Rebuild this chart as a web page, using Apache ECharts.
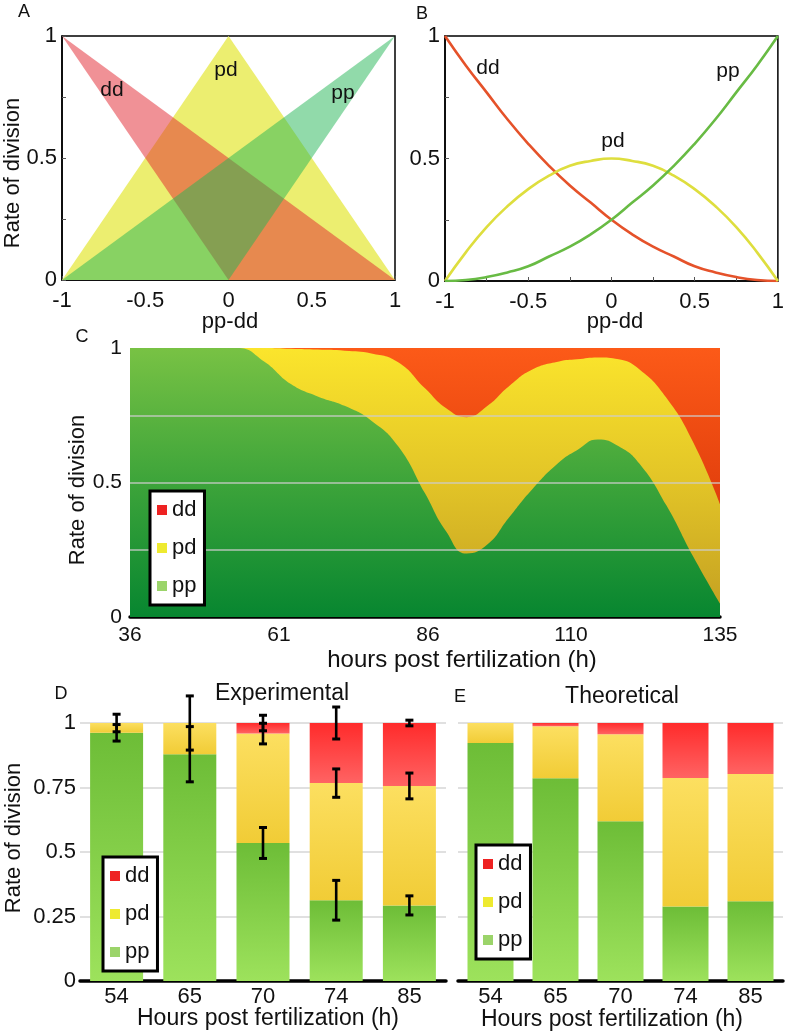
<!DOCTYPE html>
<html>
<head>
<meta charset="utf-8">
<script src="https://cdn.jsdelivr.net/npm/echarts@6/dist/echarts.min.js"></script>
<style>html,body{margin:0;padding:0;background:#fff}#c{width:787px;height:1036px}</style>
</head>
<body>
<div id="c"></div>
<script>
// ---------- Panel A: triangles (vertices in pp-dd / rate space)
const triPD = [[-1,0],[0,1],[1,0]];
const triDD = [[-1,1],[0,0],[1,0]];
const triPP = [[-1,0],[0,0],[1,1]];

// ---------- Panel B: curves
const bX  = [-1,-0.875,-0.75,-0.625,-0.5,-0.375,-0.25,-0.125,0,0.125,0.25,0.375,0.5,0.625,0.75,0.875,1];
const bDD = [1,0.88,0.77,0.66,0.56,0.47,0.39,0.32,0.25,0.19,0.14,0.10,0.06,0.035,0.016,0.004,0];
const bPD = [0,0.117,0.22,0.305,0.375,0.43,0.47,0.49,0.5,0.49,0.47,0.43,0.375,0.305,0.22,0.117,0];
const bPP = [0,0.004,0.016,0.035,0.06,0.10,0.14,0.19,0.25,0.32,0.39,0.47,0.56,0.66,0.77,0.88,1];

// ---------- Panel C: stacked areas
const cHours = [36,45,54,58.5,63,67.5,72,76.5,81,85.5,89,92.5,96,99.5,103.5,108,111,114.5,118,121.5,126,130.5,135];
const cPP = [1,1,1,0.95,0.866,0.82,0.785,0.73,0.635,0.46,0.32,0.236,0.27,0.367,0.475,0.575,0.62,0.66,0.635,0.57,0.415,0.225,0.05];
const cPD = [0,0,0,0.05,0.131,0.174,0.205,0.25,0.312,0.39,0.457,0.507,0.515,0.489,0.445,0.375,0.338,0.305,0.323,0.35,0.40,0.425,0.37];
const cDD = [0,0,0,0,0.003,0.006,0.01,0.02,0.053,0.15,0.223,0.257,0.215,0.144,0.08,0.05,0.042,0.035,0.042,0.08,0.185,0.35,0.58];
const cTicks = [36,61,86,110,135];

// ---------- Panel D: experimental
const hoursCats = ['54','65','70','74','85'];
const dPP = [0.962,0.879,0.535,0.313,0.293];
const dPD = [0.038,0.121,0.424,0.454,0.463];
const dDD = [0,0,0.041,0.233,0.244];
const dErrPP = [0.032,0.107,0.06,0.077,0.037];
const dErrPD = [0.034,0.105,0.04,0.055,0.05];
const dErrDD = [null,null,0.03,0.062,0.011];

// ---------- Panel E: theoretical
const ePP = [0.922,0.786,0.619,0.289,0.309];
const ePD = [0.078,0.201,0.337,0.498,0.493];
const eDD = [0,0.013,0.044,0.213,0.198];

const FONT = 'Liberation Sans, Arial, sans-serif';
const TXT = '#111';
const grad = (stops) => new echarts.graphic.LinearGradient(0,0,0,1,stops.map((c,i)=>({offset:i/(stops.length-1),color:c})));

const chart = echarts.init(document.getElementById('c'), null, {renderer:'canvas'});

function polySeries(name, pts, fill, z){
  return {
    type:'custom', name, xAxisIndex:0, yAxisIndex:0, z, silent:true, clip:false,
    data: pts,
    renderItem: (params, api) => params.dataIndex === 0 ? {
      type:'polygon',
      shape:{points: pts.map(p => api.coord(p))},
      style:{fill}
    } : null
  };
}

function boxAxisX(idx){
  return {
    type:'value', gridIndex:idx, min:-1, max:1, interval:0.25,
    axisLine:{show:true, onZero:false, lineStyle:{color:'#000', width:1.5}},
    axisTick:{show:true, inside:true, length:4, lineStyle:{color:'#555'}},
    axisLabel:{fontSize:22, fontFamily:FONT, color:TXT, margin:10,
      formatter: v => (Math.abs(v*2 - Math.round(v*2)) < 1e-9) ? String(v) : ''},
    splitLine:{show:false}
  };
}
function boxAxisY(idx){
  return {
    type:'value', gridIndex:idx, min:0, max:1, interval:0.25,
    axisLine:{show:true, onZero:false, lineStyle:{color:'#000', width:1.5}},
    axisTick:{show:true, inside:true, length:4, lineStyle:{color:'#555'}},
    axisLabel:{fontSize:22, fontFamily:FONT, color:TXT, margin:5,
      formatter: v => (v===0||v===0.5||v===1) ? String(v) : ''},
    splitLine:{show:false}
  };
}

const legendCommon = {
  orient:'vertical', backgroundColor:'#fff', borderColor:'#000', borderWidth:3,
  padding:[8,8,8,7], itemGap:16, itemWidth:10, itemHeight:10, icon:'rect',
  selectedMode:false, z:20,
  textStyle:{fontSize:22, fontFamily:FONT, color:TXT},
  data:[
    {name:'dd', itemStyle:{color:'#ee2222'}},
    {name:'pd', itemStyle:{color:'#eeea30'}},
    {name:'pp', itemStyle:{color:'#9bd46a'}}
  ]
};

const barStyles = {
  pp: grad(['#6dbd37','#9de25c']),
  pd: grad(['#fcdf60','#f1cc36']),
  dd: grad(['#ff2b2b','#ff6363'])
};

function barSeries(name, vals, stack, ax, width){
  return {
    type:'bar', name, stack, xAxisIndex:ax, yAxisIndex:ax, barWidth:width,
    data: vals, itemStyle:{color: barStyles[name]}, silent:true
  };
}

const errData = [];
hoursCats.forEach((c,i) => {
  errData.push([i, dPP[i], dErrPP[i]]);
  errData.push([i, dPP[i]+dPD[i], dErrPD[i]]);
  if (dErrDD[i] != null) errData.push([i, dPP[i]+dPD[i]+dDD[i], dErrDD[i]]);
});

// cumulative tops for panel C (drawn as overlapping areas from the bottom)
const cTopPP = cPP.slice();
const cTopPD = cPP.map((v,i) => v + cPD[i]);
const cTopDD = cPP.map((v,i) => v + cPD[i] + cDD[i]);

function areaC(name, tops, fill, z, legendColor, extra){
  return Object.assign({
    type:'line', name, xAxisIndex:2, yAxisIndex:2, smooth:0.5, z,
    showSymbol:false, silent:true, lineStyle:{width:0},
    areaStyle:{opacity:1, color:fill, origin:'start'},
    itemStyle:{color:legendColor},
    data:cHours.map((h,i)=>[h,tops[i]])
  }, extra || {});
}

function lbl(text, x, y, size, rot){
  return {type:'text', x, y, z:100, rotation: rot ? Math.PI/2 : 0, silent:true,
    style:{text, align:'center', verticalAlign:'middle', font: size+'px '+FONT, fill:TXT}};
}

const option = {
  backgroundColor:'#fff',
  animation:false,
  grid:[
    {left:62, top:36, width:333, height:244, show:true, borderColor:'#000', borderWidth:1.5},
    {left:445, top:36, width:334, height:245, show:true, borderColor:'#000', borderWidth:1.5},
    {left:130, top:348, width:590, height:269},
    {left:80, top:723, width:366, height:258},
    {left:458, top:723, width:325, height:258}
  ],
  xAxis:[
    boxAxisX(0), boxAxisX(1),
    {type:'value', gridIndex:2, min:36, max:135,
      axisLine:{show:true, onZero:false, lineStyle:{color:'#000', width:3.5}},
      axisTick:{show:false},
      axisLabel:{customValues:cTicks, fontSize:21, fontFamily:FONT, color:TXT, margin:8},
      splitLine:{show:false}},
    {type:'category', gridIndex:3, data:hoursCats,
      axisLine:{show:true, lineStyle:{color:'#000', width:3.5}},
      axisTick:{show:false},
      axisLabel:{fontSize:22, fontFamily:FONT, color:TXT, margin:5}},
    {type:'category', gridIndex:4, data:hoursCats,
      axisLine:{show:true, lineStyle:{color:'#000', width:3.5}},
      axisTick:{show:false},
      axisLabel:{fontSize:22, fontFamily:FONT, color:TXT, margin:5}}
  ],
  yAxis:[
    boxAxisY(0), boxAxisY(1),
    {type:'value', gridIndex:2, min:0, max:1, interval:0.25,
      axisLine:{show:false, onZero:false}, axisTick:{show:false},
      axisLabel:{fontSize:21, fontFamily:FONT, color:TXT, margin:8,
        formatter: v => (v===0||v===0.5||v===1) ? String(v) : ''},
      splitLine:{show:false}},
    {type:'value', gridIndex:3, min:0, max:1, interval:0.25,
      axisLine:{show:false}, axisTick:{show:false},
      axisLabel:{fontSize:22, fontFamily:FONT, color:TXT, margin:4},
      splitLine:{show:true, lineStyle:{color:'#d6d6d6', width:1.5}}},
    {type:'value', gridIndex:4, min:0, max:1, interval:0.25,
      axisLine:{show:false}, axisTick:{show:false},
      axisLabel:{show:false},
      splitLine:{show:true, lineStyle:{color:'#d6d6d6', width:1.5}}}
  ],
  legend:[
    Object.assign({left:150, top:491}, legendCommon),
    Object.assign({left:103, top:857}, legendCommon),
    Object.assign({left:476, top:845}, legendCommon)
  ],
  series:[
    // Panel A
    polySeries('A-pd', triPD, 'rgb(236,238,112)', 2),
    polySeries('A-dd', triDD, 'rgba(225,35,45,0.5)', 3),
    polySeries('A-pp', triPP, 'rgba(35,181,85,0.5)', 4),
    // Panel B
    {type:'line', name:'B-dd', xAxisIndex:1, yAxisIndex:1, smooth:true, showSymbol:false, silent:true,
      data:bX.map((x,i)=>[x,bDD[i]]), lineStyle:{color:'#e5522a', width:2.6}},
    {type:'line', name:'B-pd', xAxisIndex:1, yAxisIndex:1, smooth:true, showSymbol:false, silent:true,
      data:bX.map((x,i)=>[x,bPD[i]]), lineStyle:{color:'#dede3e', width:2.6}},
    {type:'line', name:'B-pp', xAxisIndex:1, yAxisIndex:1, smooth:true, showSymbol:false, silent:true,
      data:bX.map((x,i)=>[x,bPP[i]]), lineStyle:{color:'#68bb44', width:2.6}},
    // Panel C
    areaC('dd', cTopDD, grad(['#fc5a18','#e5420e','#c8300a']), 2, '#ee2222'),
    areaC('pd', cTopPD, grad(['#fbe52c','#e2c427','#c39f22']), 3, '#eeea30'),
    areaC('pp', cTopPP, grad(['#78c244','#3da43a','#078630']), 4, '#9bd46a', {
      markLine:{silent:true, symbol:'none', label:{show:false}, z:10,
        lineStyle:{color:'rgba(205,205,205,0.85)', width:1.5, type:'solid'},
        data:[{yAxis:0.25},{yAxis:0.5},{yAxis:0.75}]}
    }),
    // Panel D
    barSeries('pp', dPP, 'D', 3, 53),
    barSeries('pd', dPD, 'D', 3, 53),
    barSeries('dd', dDD, 'D', 3, 53),
    {type:'custom', name:'err', xAxisIndex:3, yAxisIndex:3, z:10, silent:true,
      data: errData,
      renderItem:(params, api) => {
        const top = api.coord([api.value(0), api.value(1)+api.value(2)]);
        const bot = api.coord([api.value(0), api.value(1)-api.value(2)]);
        const x = top[0], w = 4;
        return {type:'group', children:[
          {type:'line', shape:{x1:x,y1:top[1],x2:x,y2:bot[1]}, style:{stroke:'#000', lineWidth:2.6}},
          {type:'line', shape:{x1:x-w,y1:top[1],x2:x+w,y2:top[1]}, style:{stroke:'#000', lineWidth:3}},
          {type:'line', shape:{x1:x-w,y1:bot[1],x2:x+w,y2:bot[1]}, style:{stroke:'#000', lineWidth:3}}
        ]};
      }},
    // Panel E
    barSeries('pp', ePP, 'E', 4, 46),
    barSeries('pd', ePD, 'E', 4, 46),
    barSeries('dd', eDD, 'E', 4, 46)
  ],
  graphic:[
    lbl('A', 24, 12, 18), lbl('B', 422, 14, 18), lbl('C', 82, 337, 18),
    lbl('D', 61, 694, 18), lbl('E', 460, 697, 18),
    lbl('dd', 112, 90, 21), lbl('pd', 226, 70, 21), lbl('pp', 343, 93, 21),
    lbl('dd', 488, 68, 21), lbl('pp', 728, 71, 21), lbl('pd', 613, 141, 21),
    lbl('Rate of division', 13, 173, 22, true),
    lbl('pp-dd', 230, 322, 22), lbl('pp-dd', 615, 322, 22),
    lbl('Rate of division', 78, 490, 22, true),
    lbl('hours post fertilization (h)', 462, 660, 24),
    lbl('Experimental', 282, 694, 23), lbl('Theoretical', 622, 697, 23),
    lbl('Rate of division', 14, 838, 22, true),
    lbl('Hours post fertilization (h)', 268, 1019, 23),
    lbl('Hours post fertilization (h)', 612, 1020, 23)
  ]
};
chart.setOption(option);
</script>
</body>
</html>
